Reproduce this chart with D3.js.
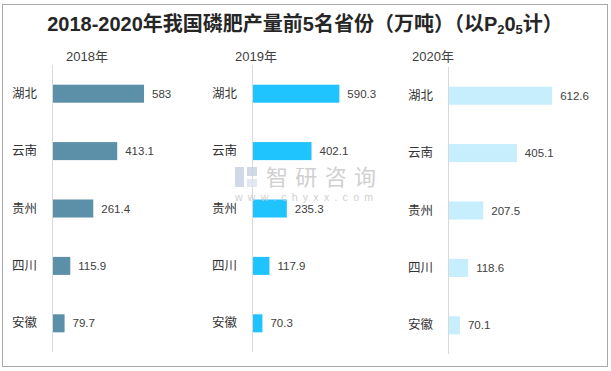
<!DOCTYPE html>
<html>
<head>
<meta charset="utf-8">
<script src="https://cdn.jsdelivr.net/npm/d3@7"></script>
<style>
  body { margin: 0; background: #fff; }
  text { font-family: "Liberation Sans", Arial, "Noto Sans CJK SC", sans-serif; }
  .cjk { font-family: "Noto Sans CJK SC", sans-serif; }
</style>
</head>
<body>
<div id="chart"></div>
<script>
// data
var provinces = ["湖北", "云南", "贵州", "四川", "安徽"];
var years = ["2018年", "2019年", "2020年"];
var values2018 = [583, 413.1, 261.4, 115.9, 79.7];
var values2019 = [590.3, 402.1, 235.3, 117.9, 70.3];
var values2020 = [612.6, 405.1, 207.5, 118.6, 70.1];
var axisMax = [700, 700, 700];

var colors = ["#5B90A8", "#1FC4FF", "#C6EEFC"];
var series = [values2018, values2019, values2020];

var width = 611, height = 371;

var svg = d3.select("#chart").append("svg")
    .attr("width", width)
    .attr("height", height);

// outer frame
svg.append("rect")
    .attr("x", 2.5).attr("y", 4.5)
    .attr("width", 605).attr("height", 362)
    .attr("fill", "#fff")
    .attr("stroke", "#a9a9a9")
    .attr("stroke-width", 1);

// title
var title = svg.append("text")
    .attr("x", 305).attr("y", 31)
    .attr("text-anchor", "middle")
    .style("font-size", "20px")
    .style("font-weight", "bold")
    .attr("fill", "#262626");
title.append("tspan").text("2018-2020年我国磷肥产量前5名省份（万吨）（以P");
title.append("tspan").text("2").attr("baseline-shift", "-20%").style("font-size", "13px");
title.append("tspan").text("0").style("font-size", "20px");
title.append("tspan").text("5").attr("baseline-shift", "-20%").style("font-size", "13px");
title.append("tspan").text("计）").style("font-size", "20px");

// panel layout
var panels = [
    {left: 52, width: 110.5, top: 65, bottom: 352, titleX: 87},
    {left: 252, width: 103.6, top: 65, bottom: 352, titleX: 256},
    {left: 448, width: 119, top: 67, bottom: 354, titleX: 433}
];

panels.forEach(function (p, i) {
    var g = svg.append("g");

    var x = d3.scaleLinear().domain([0, axisMax[i]]).range([p.left, p.left + p.width]);
    var y = d3.scaleBand().domain(provinces).range([p.top, p.bottom])
        .paddingInner(0.686).paddingOuter(0.343);

    g.append("text")
        .attr("x", p.titleX).attr("y", 61)
        .attr("text-anchor", "middle")
        .style("font-size", "13px")
        .attr("fill", "#404040")
        .text(years[i]);

    var data = provinces.map(function (d, j) { return {name: d, value: series[i][j]}; });

    g.selectAll("rect.bar").data(data).enter().append("rect")
        .attr("class", "bar")
        .attr("x", x(0))
        .attr("y", function (d) { return y(d.name); })
        .attr("width", function (d) { return x(d.value) - x(0); })
        .attr("height", y.bandwidth())
        .attr("fill", colors[i]);

    // category axis: line only, labels to the left
    var axis = d3.axisLeft(y).tickSize(0).tickPadding(15);
    var ag = g.append("g")
        .attr("transform", "translate(" + x(0) + ",0)")
        .call(axis);
    ag.select(".domain").attr("stroke", "#d9d9d9").attr("d", "M0.5," + p.top + "V" + p.bottom);
    ag.selectAll("text")
        .attr("class", "cjk")
        .style("font-size", "12.5px")
        .attr("fill", "#333");

    g.selectAll("text.val").data(data).enter().append("text")
        .attr("class", "val")
        .attr("x", function (d) { return x(d.value) + 8; })
        .attr("y", function (d) { return y(d.name) + y.bandwidth() / 2 + 4; })
        .style("font-size", "11.5px")
        .attr("fill", "#404040")
        .text(function (d) { return d.value; });
});

// watermark
var wm = svg.append("g").attr("opacity", 0.85);
wm.append("rect").attr("x", 235).attr("y", 167).attr("width", 9).attr("height", 20).attr("fill", "#c9d2e4");
wm.append("rect").attr("x", 247).attr("y", 167).attr("width", 10).attr("height", 9).attr("fill", "#c9d2e4");
wm.append("rect").attr("x", 247).attr("y", 179).attr("width", 10).attr("height", 8).attr("fill", "#dfe5f0");
wm.append("text")
    .attr("class", "cjk")
    .attr("x", 266).attr("y", 185)
    .attr("textLength", 110)
    .style("font-size", "22px")
    .attr("fill", "#c8c8c8")
    .text("智研咨询");
wm.append("text")
    .attr("x", 235).attr("y", 201)
    .attr("textLength", 138)
    .style("font-size", "10.5px")
    .attr("fill", "#c8c8c8")
    .text("www.chyxx.com");
</script>
</body>
</html>
